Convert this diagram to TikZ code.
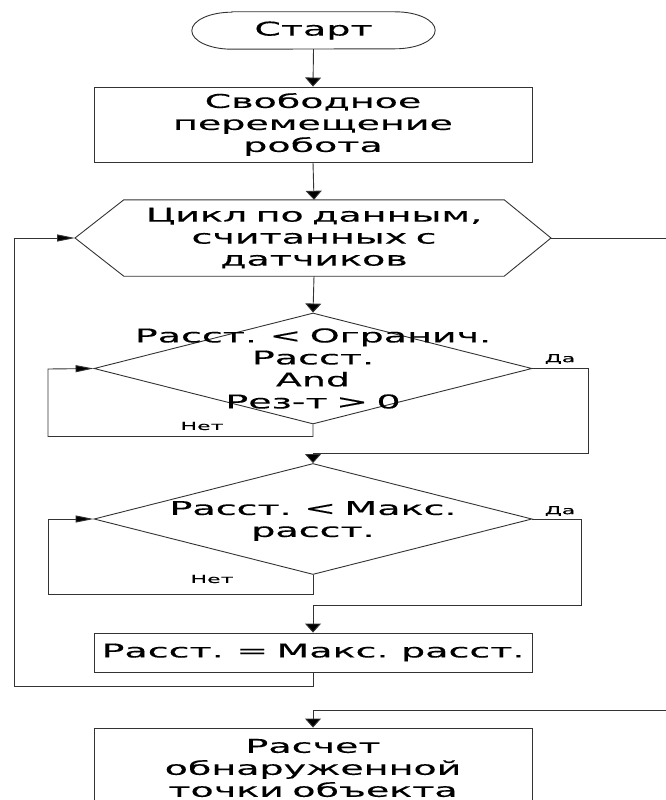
\documentclass[tikz,border=0pt]{standalone}
\usepackage{fontspec}
\setmainfont{DejaVu Sans}[FakeStretch=2.0,WordSpace=0.7,FakeBold=0.3]
\usetikzlibrary{shapes.geometric,arrows.meta,calc}
\tikzset{
  ln/.style={line width=0.9pt, draw=black!80},
  vtip/.style={-{Triangle[length=9pt,width=16pt,fill=black]}},
  htip/.style={-{Triangle[length=18pt,width=7pt,fill=black]}},
  txt/.style={font=\fontsize{19}{22}\selectfont, align=center, inner sep=0pt},
  small/.style={font=\fontsize{11}{12}\selectfont, inner sep=0pt},
  box/.style={ln, draw, rectangle, inner sep=0pt, minimum width=438pt, txt},
  diam/.style={ln, draw, diamond, inner sep=0pt, minimum width=438pt, minimum height=111pt},
}
\begin{document}
\begin{tikzpicture}[x=1pt,y=-1pt]
\useasboundingbox (0,0) rectangle (666,800);
% terminator
\node[rectangle, inner sep=0pt, minimum width=243pt, minimum height=37pt, txt] (st) at (313.5,30.5) {Старт};
\draw[ln] ([xshift=40pt]st.north west) -- ([xshift=-40pt]st.north east)
  arc[start angle=90, end angle=-90, x radius=40pt, y radius=18.5pt]
  -- ([xshift=40pt]st.south west)
  arc[start angle=270, end angle=90, x radius=40pt, y radius=18.5pt] -- cycle;
% process 1
\node[box, minimum height=75pt] (r1) at (313,124.5) {Свободное\\перемещение\\робота};
% hexagon (loop)
\node[rectangle, inner sep=0pt, minimum width=380pt, minimum height=76pt, txt] (hex) at (314,238) {Цикл по данным,\\считанных с\\датчиков};
\coordinate (hexL) at (75,238);
\coordinate (hexR) at (551,238);
\draw[ln] (hexL) -- (hex.north west) -- (hex.north east) -- (hexR) -- (hex.south east) -- (hex.south west) -- cycle;
% decision 1
\node[diam] (d1) at (313,368.5) {};
\node[txt] (d1t) at (313,368.5) {Расст. < Огранич.\\Расст.\\And\\Рез-т > 0};
\node[small] (d1y) at (560,359) {Да};
\node[small] (d1n) at (202,426) {Нет};
% decision 2
\node[diam] (d2) at (313,519) {};
\node[txt] (d2t) at (313,521) {Расст. < Макс.\\расст.};
\node[small] (d2y) at (560,511) {Да};
\node[small] (d2n) at (212,579) {Нет};
% process 2
\node[box, minimum height=39pt] (r2) at (313,652.5) {Расст. = Макс. расст.};
% process 3
\node[box, minimum height=80pt] (r3) at (313,768) {Расчет\\обнаруженной\\точки объекта};
\coordinate (outR) at (666,238);
\coordinate (inR) at (666,710);
% connectors
\draw[ln,vtip] (st.south) -- (r1.north);
\draw[ln,vtip] (r1.south) -- (hex.north);
\draw[ln,vtip] (hex.south) -- (d1.north);
\draw[ln,htip] (d1.south) -- ++(0,12) -| (48,369) -- (d1.west);
\draw[ln,vtip] (d1.east) -| (588,453) -| (d2.north);
\draw[ln,htip] (d2.south) -- ++(0,19) -| (48,519) -- (d2.west);
\draw[ln,vtip] (d2.east) -| (581,605) -| (r2.north);
\draw[ln,htip] (r2.south) -- ++(0,14) -| (14,238) -- (hexL);
\draw[ln] (hexR) -- (outR);
\draw[ln,vtip] (inR) -| (r3.north);
\end{tikzpicture}
\end{document}
